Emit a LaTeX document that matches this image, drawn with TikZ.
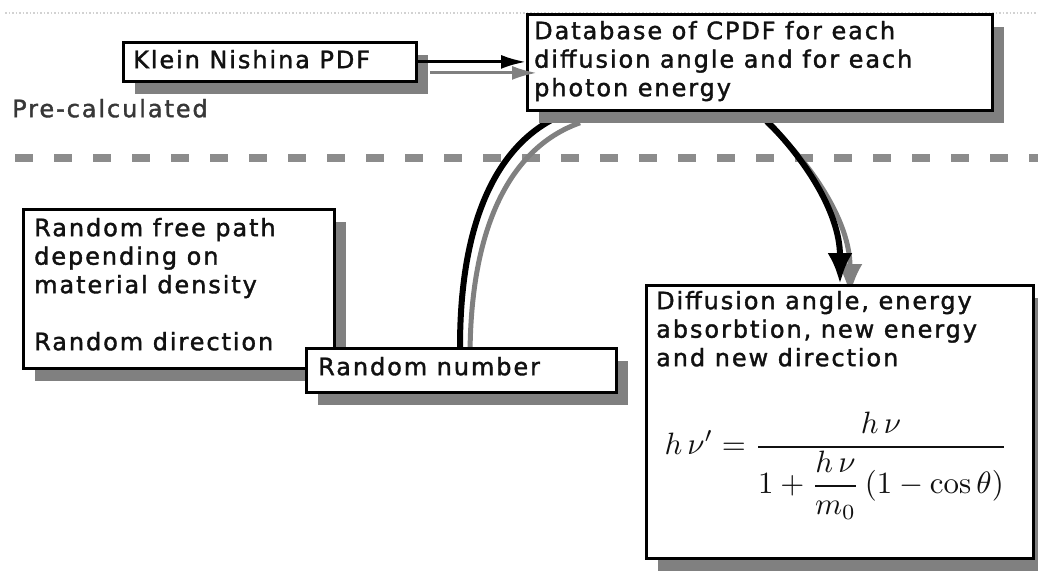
\documentclass[tikz,border=0pt]{standalone}
\usepackage[no-math]{fontspec}
\usepackage{graphicx}
\setmainfont{DejaVu Sans}[LetterSpace=8,FakeBold=1.5]
\usetikzlibrary{shadows,arrows.meta,calc}
\definecolor{shadowgray}{RGB}{128,128,128}
\definecolor{txt}{RGB}{17,17,17}
\definecolor{pretxt}{RGB}{55,55,55}
\definecolor{dashgray}{RGB}{140,140,140}
\pgfdeclarelayer{back}
\pgfsetlayers{back,main}
\begin{document}
\begin{tikzpicture}[x=1pt,y=-1pt,
  box/.style={draw=black, line width=2.8pt, fill=white, inner sep=0pt, anchor=north west,
    drop shadow={shadow xshift=12pt, shadow yshift=-13pt, fill=shadowgray, opacity=1}},
  lbl/.style={anchor=north west, inner sep=0pt, align=left, text=txt,
    font=\fontsize{24}{28.5}\selectfont},
  conn/.style={draw=black, line width=3pt, -{Latex[length=25pt,width=14pt]}},
  connshadow/.style={draw=shadowgray, line width=3pt, -{Latex[length=25pt,width=14pt]}},
  arc/.style={draw=black, line width=6pt},
  arcshadow/.style={draw=shadowgray, line width=5pt},
  bigtip/.style={-{Latex[length=31pt,width=25pt]}}
]
\useasboundingbox (0,0) rectangle (1038,570);
\begin{pgfonlayer}{back}
  \fill[white] (0,0) rectangle (1038,570);
  \draw[gray!35, line width=1.2pt, dash pattern=on 1.5pt off 2pt] (5,13) -- (1038,13);
  \draw[dashgray, line width=8pt, dash pattern=on 18pt off 21pt] (15,158) -- (1038,158);
\end{pgfonlayer}

% boxes
\node[box, minimum width=293pt, minimum height=39pt] (kn) at (122,41) {};
\node[box, minimum width=465pt, minimum height=96pt] (db) at (526,13) {};
\node[box, minimum width=311pt, minimum height=159pt] (rf) at (22,208) {};
\node[box, minimum width=310pt, minimum height=44pt] (rn) at (305,347) {};
\node[box, minimum width=387pt, minimum height=273pt] (df) at (645,284) {};

% texts
\node[lbl] (knt) at (133,48) {\rule{0pt}{20pt}Klein Nishina PDF};
\node[lbl] (dbt) at (534,19) {\rule{0pt}{20pt}Database of CPDF for each\\diffusion angle and for each\\photon energy};
\node[lbl] (rft) at (34,216) {\rule{0pt}{20pt}Random free path\\depending on\\material density\\[28.5pt]Random direction};
\node[lbl] (rnt) at (318,355) {\rule{0pt}{20pt}Random number};
\node[lbl] (dft) at (656,289) {\rule{0pt}{20pt}Diffusion angle, energy\\absorbtion, new energy\\and new direction};
\node[lbl, text=pretxt] (pre) at (12,97) {\rule{0pt}{20pt}Pre-calculated};
\node[inner sep=0pt, text=txt] (eq) at (836,466) {\resizebox{343pt}{!}{$\displaystyle h\,\nu' = \frac{h\,\nu}{1+{\displaystyle\frac{h\,\nu}{m_0}}\left(1-\cos\theta\right)}$}};

% arc connectors
\coordinate (a1) at ($(rn.north west)+(155,0)$);
\coordinate (a2) at ($(db.south west)+(44,0)$);
\coordinate (b1) at ($(db.south west)+(231,0)$);
\coordinate (b2) at ($(df.north west)+(195,0)$);
\coordinate (a1s) at ($(a1)+(10,11)$);
\coordinate (a2s) at ($(a2)+(10,11)$);
\coordinate (b1s) at ($(b1)+(10,11)$);
\coordinate (b2s) at ($(b2)+(10,11)$);
\begin{pgfonlayer}{back}
  \draw[arcshadow] (a1s) .. controls +(0,-147) and +(-60,21) .. (a2s);
  \draw[arcshadow, bigtip] (b1s) .. controls +(43,39) and +(0,-74) .. (b2s);
  \draw[arc] (a1) .. controls +(0,-147) and +(-60,21) .. (a2);
  \draw[arc, bigtip] (b1) .. controls +(43,39) and +(0,-74) .. (b2);
\end{pgfonlayer}

% Klein -> Database
\draw[connshadow] ($(kn.east)+(12,11)$) -- ($(kn.east -| db.west)+(11,11)$);
\draw[conn] (kn.east) -- (kn.east -| db.west);
\end{tikzpicture}
\end{document}
